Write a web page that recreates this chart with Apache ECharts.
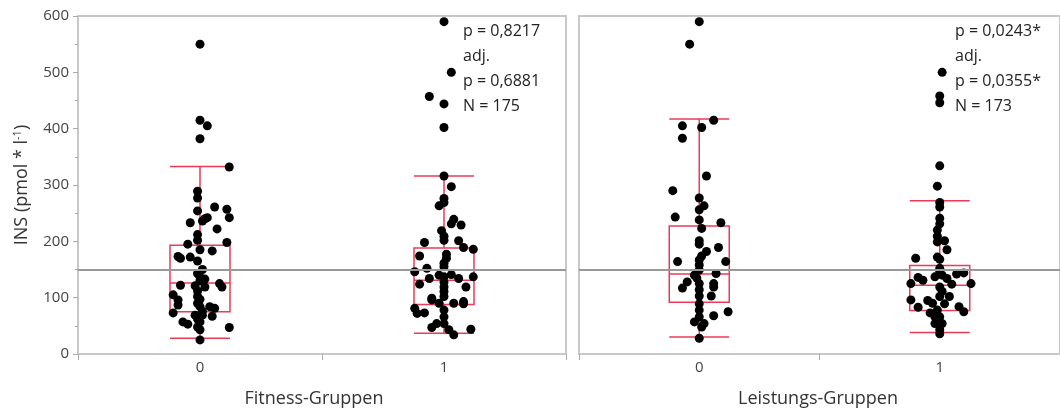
<!DOCTYPE html>
<html>
<head>
<meta charset="utf-8">
<script src="https://cdn.jsdelivr.net/npm/echarts@6/dist/echarts.min.js"></script>
<style>
  html, body { margin: 0; padding: 0; background: #fff; }
  #chart { width: 1060px; height: 414px; }
</style>
</head>
<body>
<div id="chart"></div>
<script>
// Kategorien und Ticks
var groups = ['0', '1'];
var yTicks = [0, 100, 200, 300, 400, 500, 600];
var refLine = 150;

// Boxplot-Kennwerte [min, Q1, Median, Q3, max]
var fitnessBox = [[28, 75, 126, 193, 333], [37, 88, 131, 188, 316]];
var leistungBox = [[30, 92, 142, 227, 417], [38, 77, 122, 157, 272]];

// Einzelwerte (INS) und Jitter (Versatz in Kategorie-Einheiten)
var fit0Vals = [550, 415, 405, 382, 332, 289, 277, 261, 257, 254, 242, 242, 240, 236, 233, 222, 212, 202, 198, 195,
  185, 183, 173, 170, 172, 165, 150, 143, 137, 133, 130, 122, 121, 119, 125, 119, 112, 105, 96, 87, 102, 97, 90, 84, 84, 81,
  76, 73, 69, 69, 62, 57, 67, 57, 53, 48, 43, 47, 25];
var fit0Jit = [0.00, 0.00, 0.03, 0.00, 0.12, -0.01, -0.01, 0.06, 0.11, -0.01, 0.12, 0.03, 0.02, 0.01, -0.04, 0.07, -0.01, -0.01, 0.11, -0.05,
  0.00, 0.05, -0.09, -0.08, -0.04, -0.01, 0.01, -0.01, 0.00, 0.02, 0.00, -0.08, -0.02, 0.02, 0.08, 0.09, -0.01, -0.11, -0.09, -0.09, -0.01, 0.00, -0.01, 0.00, 0.04, 0.06,
  0.01, -0.11, -0.02, 0.01, -0.01, 0.00, 0.05, -0.07, -0.05, -0.01, 0.00, 0.12, 0.00];

var fit1Vals = [590, 500, 457, 444, 402, 316, 297, 276, 269, 263, 239, 231, 229, 219, 209, 202, 198, 201, 189, 186,
  177, 170, 161, 155, 174, 152, 146, 140, 137, 141, 134, 134, 137, 128, 119, 111, 102, 124, 119, 99, 96, 90, 90, 93, 89,
  81, 72, 73, 78, 66, 54, 54, 47, 43, 34, 44];
var fit1Jit = [0.00, 0.03, -0.06, 0.00, 0.00, 0.00, 0.03, 0.00, 0.00, -0.02, 0.04, 0.03, 0.07, -0.01, 0.00, 0.00, -0.08, 0.06, 0.08, 0.12,
  0.01, 0.01, 0.00, 0.00, -0.10, -0.07, -0.12, -0.02, 0.00, 0.03, -0.06, 0.06, 0.12, 0.00, 0.00, 0.00, 0.00, -0.10, 0.09, -0.05, -0.05, -0.02, 0.04, 0.08, 0.08,
  -0.12, -0.11, -0.08, 0.00, 0.00, 0.00, -0.03, -0.05, 0.02, 0.04, 0.11];

var lei0Vals = [590, 550, 415, 405, 402, 383, 316, 290, 277, 263, 256, 243, 238, 223, 233, 201, 195, 189, 182, 174,
  167, 164, 164, 158, 149, 140, 135, 143, 128, 117, 125, 114, 103, 125, 119, 103, 89, 78, 66, 75, 68, 57, 54, 48, 28];
var lei0Jit = [0.00, -0.04, 0.06, -0.07, 0.01, -0.07, 0.03, -0.11, 0.00, 0.02, 0.00, -0.10, 0.00, 0.01, 0.09, 0.00, 0.00, 0.08, 0.03, 0.01,
  0.00, -0.09, 0.11, 0.00, 0.00, -0.02, -0.01, 0.07, -0.05, -0.07, 0.00, 0.00, 0.00, 0.06, 0.06, 0.05, 0.00, 0.00, 0.00, 0.12, 0.06, -0.02, 0.02, 0.01, 0.00];

var lei1Vals = [500, 458, 446, 334, 298, 269, 261, 241, 231, 220, 209, 201, 185, 199, 170, 172, 168, 152, 146, 140,
  142, 144, 136, 131, 137, 134, 125, 125, 124, 119, 111, 102, 102, 96, 83, 95, 90, 89, 84, 75, 73, 78, 66, 54, 43, 36, 66, 54];
var lei1Jit = [0.01, 0.00, 0.00, 0.00, -0.01, 0.00, 0.00, 0.00, 0.00, -0.01, -0.01, 0.02, 0.03, -0.01, -0.10, -0.01, 0.00, 0.00, 0.00, 0.01,
  0.07, 0.10, -0.09, -0.07, -0.02, 0.03, -0.12, 0.13, 0.05, 0.00, 0.01, 0.00, 0.04, -0.12, -0.09, -0.05, -0.03, 0.02, 0.08, 0.10, -0.04, -0.01, 0.00, 0.01, 0.00, 0.00, -0.02, -0.02];

var fitnessText = ['p = 0,8217', 'adj.', 'p = 0,6881', 'N = 175'];
var leistungText = ['p = 0,0243*', 'adj.', 'p = 0,0355*', 'N = 173'];

var FONT = 'Open Sans';
var FRAME = '#c8c8c8';
var BOX = '#ec3a57';

function points(cat, vals, jit) {
  var out = [];
  for (var i = 0; i < vals.length; i++) {
    out.push([cat + jit[i], vals[i]]);
  }
  return out;
}

function catAxis(gridIndex) {
  return {
    type: 'category',
    gridIndex: gridIndex,
    data: groups,
    boundaryGap: true,
    splitLine: { show: false },
    axisLine: { onZero: false, lineStyle: { color: FRAME, width: 2 } },
    axisTick: { show: true, length: 6, lineStyle: { color: '#aaa' } },
    axisLabel: { fontFamily: FONT, fontSize: 15, color: '#444', margin: 6 }
  };
}

function jitAxis(gridIndex) {
  return {
    type: 'value', gridIndex: gridIndex, min: -0.5, max: 1.5, show: false,
    splitLine: { show: false }, axisLine: { show: false, onZero: false }
  };
}

function valAxis(gridIndex, showLabels) {
  return {
    type: 'value',
    gridIndex: gridIndex,
    min: yTicks[0],
    max: yTicks[yTicks.length - 1],
    interval: 100,
    name: showLabels ? 'INS (pmol * l{sup|-1})' : '',
    nameLocation: 'middle',
    nameGap: 46,
    nameTextStyle: {
      fontFamily: FONT, fontSize: 18, color: '#333',
      rich: { sup: { fontFamily: FONT, fontSize: 11, color: '#333', padding: [0, 0, 9, 0] } }
    },
    splitLine: { show: false },
    axisLine: { show: true, onZero: false, lineStyle: { color: FRAME, width: 2 } },
    axisTick: { show: showLabels, length: 5, lineStyle: { color: '#aaa' } },
    minorTick: { show: showLabels, splitNumber: 2, length: 3, lineStyle: { color: '#aaa' } },
    axisLabel: { show: showLabels, fontFamily: FONT, fontSize: 15, color: '#444', margin: 9 }
  };
}

function boxSeries(axisIdx, data) {
  return {
    type: 'boxplot',
    xAxisIndex: axisIdx,
    yAxisIndex: axisIdx / 2,
    data: data,
    boxWidth: [60, 60],
    silent: true,
    z: 2,
    itemStyle: { color: 'rgba(0,0,0,0)', borderColor: BOX, borderWidth: 1.5 }
  };
}

function dotSeries(axisIdx, yIdx, data, withLine) {
  var s = {
    type: 'scatter',
    xAxisIndex: axisIdx,
    yAxisIndex: yIdx,
    data: data,
    symbolSize: 9,
    itemStyle: { color: '#000', opacity: 1 },
    silent: true,
    z: 3
  };
  if (withLine) {
    s.markLine = {
      silent: true,
      symbol: 'none',
      label: { show: false },
      lineStyle: { color: '#999', width: 2, type: 'solid' },
      data: [{ yAxis: refLine }]
    };
  }
  return s;
}

function statText(x, lines) {
  return {
    type: 'text',
    left: x,
    top: 19,
    style: { text: lines.join('\n'), fontFamily: FONT, fontSize: 16, lineHeight: 25, fill: '#222' }
  };
}

function groupTitle(x, text) {
  return {
    type: 'text', x: x, y: 399,
    style: { text: text, fontFamily: FONT, fontSize: 18, fill: '#333', align: 'center', verticalAlign: 'middle' }
  };
}

var chart = echarts.init(document.getElementById('chart'));
var option = {
  animation: false,
  grid: [
    { left: 78, top: 16, width: 488, height: 338, show: true, borderColor: FRAME, borderWidth: 2 },
    { left: 579, top: 16, width: 488, height: 338, show: true, borderColor: FRAME, borderWidth: 2 }
  ],
  xAxis: [catAxis(0), jitAxis(0), catAxis(1), jitAxis(1)],
  yAxis: [valAxis(0, true), valAxis(1, false)],
  graphic: [
    statText(463, fitnessText),
    statText(955, leistungText),
    groupTitle(314, 'Fitness-Gruppen'),
    groupTitle(818, 'Leistungs-Gruppen')
  ],
  series: [
    boxSeries(0, fitnessBox),
    dotSeries(1, 0, points(0, fit0Vals, fit0Jit).concat(points(1, fit1Vals, fit1Jit)), true),
    boxSeries(2, leistungBox),
    dotSeries(3, 1, points(0, lei0Vals, lei0Jit).concat(points(1, lei1Vals, lei1Jit)), true)
  ]
};
chart.setOption(option);
</script>
</body>
</html>
